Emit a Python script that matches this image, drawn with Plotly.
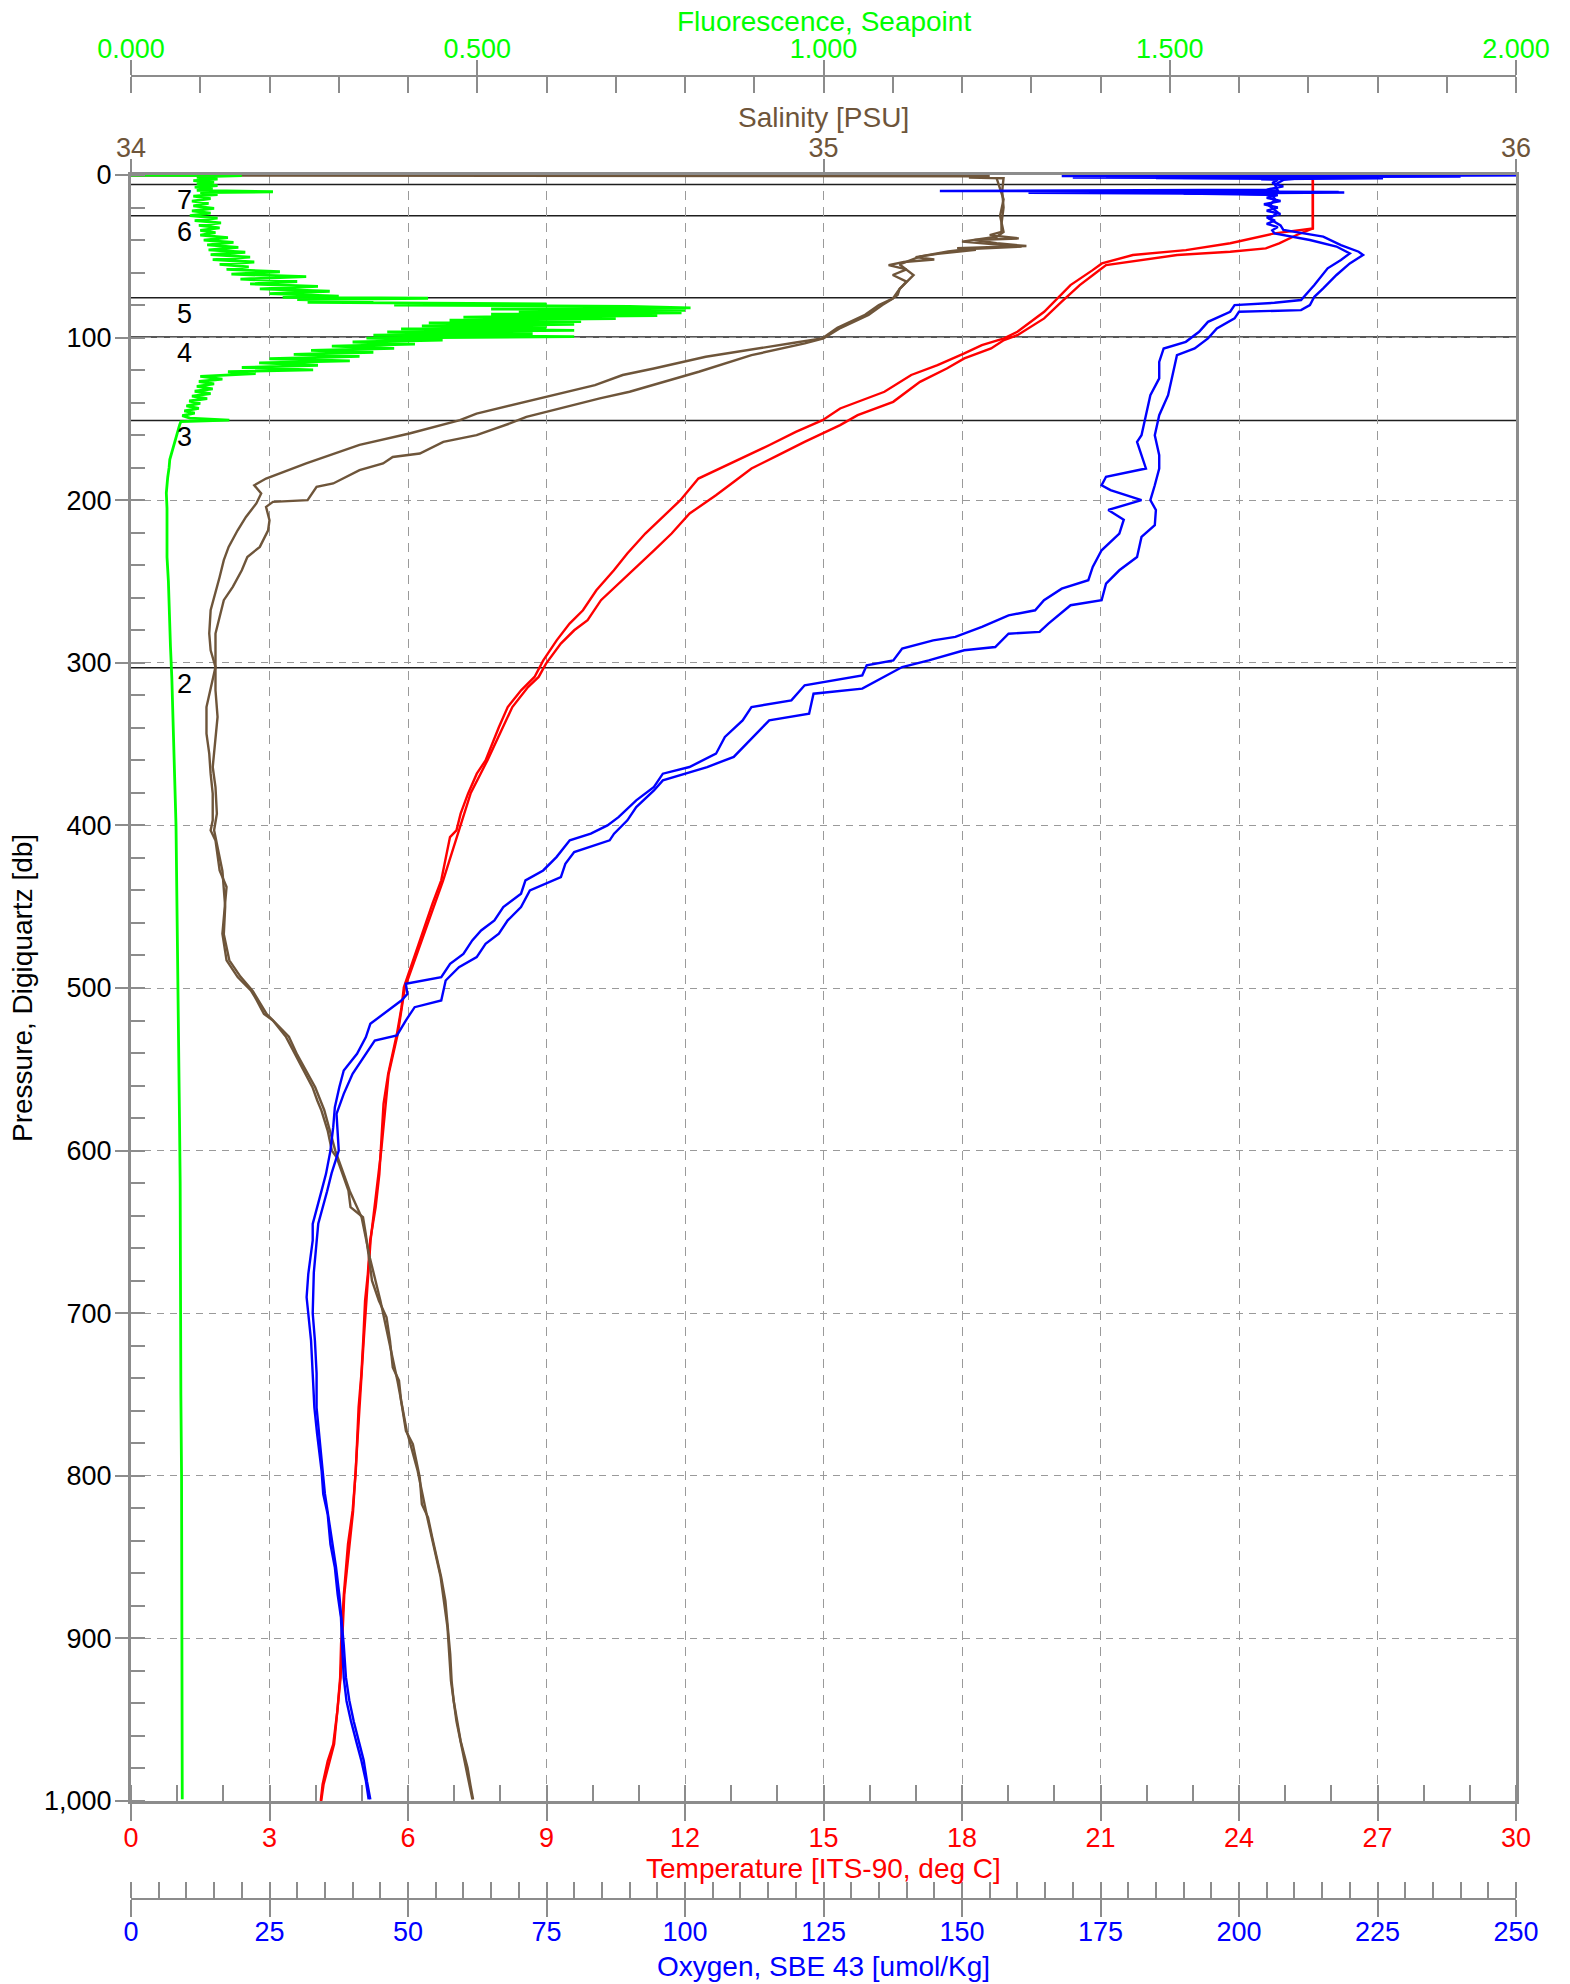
import plotly.graph_objects as go

FONT = "Liberation Sans, Arial, sans-serif"
GREEN = "#00FF00"
BROWN = "#6E553A"
RED = "#FF0000"
BLUE = "#0000FF"
GRAY = "#8C8C8C"
GRID = "#9A9A9A"

# ---------------- data: (pressure [db], value) readings ----------------
temp_down = [
    (3.0, 25.6), (32.8, 25.6), (35.9, 24.77), (42.0, 23.81), (46.2, 22.85), (49.2, 21.70),
    (54.4, 21.03), (58.5, 20.83), (67.7, 20.35), (75.9, 20.07), (84.1, 19.78), (96.4, 19.20),
    (100.5, 18.91), (104.6, 18.43), (109.7, 18.05), (116.9, 17.47), (123.0, 16.90), (133.3, 16.32),
    (143.6, 15.36), (150.8, 14.98), (158.0, 14.40), (166.2, 13.82), (176.4, 13.06), (186.7, 12.29),
    (200.0, 11.90), (210.3, 11.52), (220.5, 11.14), (232.8, 10.75), (243.1, 10.46), (255.4, 10.08),
    (267.7, 9.79), (275.9, 9.50), (286.2, 9.22), (298.5, 8.93), (308.7, 8.74), (316.9, 8.45),
    (327.2, 8.16), (339.5, 7.97), (349.7, 7.83), (360.0, 7.68), (368.2, 7.49), (380.5, 7.30),
    (392.8, 7.14), (403.0, 7.05), (407.2, 6.91), (433.8, 6.72), (448.2, 6.53), (464.6, 6.34),
    (483.0, 6.11), (499.5, 5.91), (511.8, 5.86), (528.2, 5.76), (540.5, 5.66), (552.8, 5.57),
    (571.3, 5.47), (593.8, 5.43), (614.3, 5.38), (634.8, 5.30), (655.3, 5.18), (675.9, 5.13),
    (692.3, 5.07), (716.9, 5.03), (737.4, 4.99), (757.9, 4.93), (778.4, 4.90), (796.9, 4.87),
    (821.6, 4.80), (842.1, 4.70), (872.9, 4.61), (903.6, 4.55), (924.1, 4.53), (944.6, 4.47),
    (965.2, 4.38), (975.4, 4.26), (989.8, 4.15), (1000.0, 4.11),
]
temp_up = [
    (3.0, 25.6), (32.8, 25.6), (36.9, 25.25), (42.0, 24.87), (45.1, 24.58), (47.2, 23.81),
    (49.2, 22.66), (55.4, 21.12), (59.5, 20.93), (67.7, 20.55), (77.9, 20.16), (88.2, 19.78),
    (98.5, 19.20), (101.5, 18.91), (106.7, 18.63), (112.8, 18.05), (119.0, 17.67), (127.2, 17.09),
    (139.5, 16.51), (147.7, 15.74), (153.8, 15.36), (164.1, 14.59), (172.3, 14.02), (180.5, 13.44),
    (188.7, 13.06), (196.9, 12.67), (208.2, 12.10), (220.5, 11.71), (230.8, 11.33), (241.0, 10.94),
    (251.3, 10.56), (261.5, 10.18), (273.8, 9.89), (280.0, 9.60), (288.2, 9.31), (300.5, 8.99),
    (308.7, 8.83), (314.9, 8.60), (327.2, 8.26), (339.5, 8.06), (360.0, 7.72), (380.0, 7.36),
    (403.0, 7.10), (434.0, 6.76), (465.0, 6.37), (500.0, 5.93), (528.0, 5.78), (553.0, 5.58),
    (600.0, 5.42), (655.0, 5.19), (717.0, 5.04), (778.0, 4.91), (822.0, 4.81), (873.0, 4.62),
    (924.0, 4.54), (965.0, 4.40), (990.0, 4.17), (1000.0, 4.12),
]
sal_down = [
    (0.3, 34.00), (0.8, 35.24), (1.5, 35.21), (2.0, 35.26), (10.0, 35.258), (20.0, 35.26),
    (30.0, 35.257), (35.0, 35.257), (37.0, 35.24), (39.0, 35.282), (40.0, 35.218), (42.0, 35.25),
    (43.7, 35.293), (45.0, 35.193), (46.0, 35.22), (48.5, 35.165), (50.5, 35.133), (52.0, 35.16),
    (53.5, 35.116), (55.4, 35.094), (58.0, 35.12), (61.5, 35.10), (65.6, 35.12), (70.0, 35.11),
    (73.8, 35.107), (76.0, 35.10), (80.0, 35.08), (86.0, 35.06), (94.0, 35.02), (100.5, 34.998),
    (103.0, 34.96), (105.6, 34.92), (111.8, 34.83), (119.0, 34.755), (123.0, 34.71), (129.2, 34.67),
    (138.5, 34.58), (146.7, 34.499), (150.8, 34.475), (159.0, 34.402), (166.0, 34.33), (177.4, 34.253),
    (186.7, 34.195), (190.8, 34.178), (195.9, 34.188), (202.0, 34.181), (210.3, 34.166), (218.5, 34.154),
    (228.7, 34.141), (236.9, 34.134), (247.2, 34.128), (257.4, 34.122), (267.7, 34.115), (282.0, 34.113),
    (292.3, 34.115), (302.6, 34.122), (314.9, 34.115), (327.2, 34.109), (343.6, 34.109), (355.9, 34.113),
    (368.2, 34.115), (380.5, 34.118), (396.9, 34.118), (403.1, 34.115), (409.2, 34.122), (427.7, 34.128),
    (437.9, 34.138), (454.3, 34.134), (466.6, 34.132), (483.0, 34.138), (493.3, 34.154), (501.5, 34.173),
    (505.6, 34.179), (515.9, 34.192), (520.0, 34.205), (530.2, 34.224), (540.5, 34.237), (550.7, 34.25),
    (561.0, 34.262), (569.2, 34.269), (575.4, 34.275), (587.7, 34.284), (600.0, 34.290), (604.1, 34.297),
    (614.3, 34.305), (624.6, 34.314), (634.8, 34.317), (641.0, 34.335), (651.2, 34.339), (665.6, 34.343),
    (680.0, 34.348), (692.3, 34.358), (702.5, 34.369), (716.9, 34.374), (733.3, 34.378), (741.5, 34.387),
    (753.8, 34.39), (772.3, 34.397), (780.5, 34.407), (790.7, 34.412), (801.1, 34.417), (817.5, 34.42),
    (825.7, 34.429), (838.0, 34.435), (850.3, 34.442), (862.6, 34.448), (877.0, 34.454), (893.4, 34.458),
    (909.8, 34.461), (926.2, 34.463), (938.5, 34.466), (950.8, 34.471), (963.1, 34.476), (971.3, 34.481),
    (979.5, 34.486), (989.8, 34.49), (999.0, 34.494),
]
sal_up = [
    (2.0, 35.25), (15.0, 35.26), (25.0, 35.255), (35.0, 35.26), (38.0, 35.25), (41.0, 35.20),
    (44.0, 35.286), (45.5, 35.21), (47.0, 35.18), (50.0, 35.14), (55.0, 35.11), (61.5, 35.13),
    (70.0, 35.11), (76.0, 35.10), (80.0, 35.085), (86.0, 35.065), (94.0, 35.025), (100.5, 35.0),
    (103.6, 34.973), (110.8, 34.896), (121.0, 34.82), (127.2, 34.77), (133.3, 34.72), (137.4, 34.677),
    (148.7, 34.571), (152.8, 34.547), (160.0, 34.499), (164.1, 34.451), (167.2, 34.436), (171.3, 34.417),
    (173.4, 34.378), (177.4, 34.364), (181.5, 34.33), (189.7, 34.292), (191.8, 34.268), (200.0, 34.255),
    (201.0, 34.205), (204.1, 34.195), (212.3, 34.200), (218.5, 34.198), (228.7, 34.186), (234.9, 34.168),
    (243.1, 34.16), (253.3, 34.147), (261.5, 34.134), (271.8, 34.128), (282.0, 34.122), (294.4, 34.122),
    (306.7, 34.122), (316.9, 34.122), (333.3, 34.125), (347.7, 34.122), (364.1, 34.118), (376.4, 34.122),
    (392.8, 34.124), (403.0, 34.120), (428.0, 34.132), (450.0, 34.136), (467.0, 34.134), (483.0, 34.142),
    (493.0, 34.158), (502.0, 34.176), (516.0, 34.196), (530.0, 34.228), (541.0, 34.240), (561.0, 34.266),
    (575.0, 34.279), (600.0, 34.295), (625.0, 34.316), (641.0, 34.333), (666.0, 34.345), (692.0, 34.360),
    (717.0, 34.372), (742.0, 34.385), (772.0, 34.398), (797.0, 34.414), (826.0, 34.428), (862.0, 34.447),
    (893.0, 34.457), (926.0, 34.462), (951.0, 34.470), (979.0, 34.484), (999.0, 34.493),
]
oxy_down = [
    (0.0, 252), (0.6, 168), (1.0, 240), (1.5, 170), (2.0, 226), (2.6, 204), (3.0, 207), (5.0, 206),
    (7.0, 208), (9.0, 205), (9.8, 146), (10.4, 218), (11.0, 162), (11.6, 200), (12.3, 207), (14.0, 205),
    (16.0, 207.5), (18.0, 204.5), (20.0, 207), (22.0, 205), (24.0, 207.5), (26.0, 205), (28.0, 206.5),
    (30.0, 205), (32.0, 207), (34.0, 206), (35.9, 206.4), (40.0, 212.8), (44.0, 217.6), (48.2, 220.0),
    (52.3, 218.4), (57.4, 216.0), (67.7, 213.6), (76.9, 211.2), (78.6, 206.4), (80.0, 199.2),
    (84.1, 198.4), (90.3, 194.4), (96.4, 192.8), (102.6, 190.4), (106.7, 186.4), (114.9, 185.6),
    (125.1, 185.6), (135.4, 184.0), (147.7, 183.2), (160.0, 182.4), (164.1, 181.6), (172.3, 182.4),
    (180.5, 183.2), (185.6, 176.0), (190.8, 175.2), (193.8, 176.8), (200.0, 182.4), (206.0, 176.4),
    (212.0, 179.2), (220.5, 178.4), (230.8, 175.2), (241.0, 173.6), (249.2, 172.8), (254.4, 168.0),
    (261.5, 164.8), (267.7, 163.2), (270.8, 158.4), (277.9, 153.6), (284.1, 148.8), (286.2, 144.8),
    (291.3, 139.2), (298.5, 137.6), (301.5, 132.8), (307.7, 132.0), (310.8, 126.4), (313.8, 121.6),
    (323.1, 119.2), (327.2, 112.0), (335.4, 110.4), (345.6, 107.2), (355.9, 105.6), (364.1, 100.8),
    (368.2, 96.0), (376.4, 94.4), (384.6, 91.2), (394.9, 88.0), (400.0, 86.0), (405.0, 83.0),
    (409.2, 79.2), (419.5, 76.8), (427.7, 74.4), (433.8, 71.2), (442.0, 70.4), (450.2, 67.2),
    (458.4, 65.6), (464.6, 63.2), (470.7, 61.6), (479.0, 60.0), (485.1, 57.6), (493.3, 56.0),
    (497.4, 49.6), (503.6, 49.9), (507.7, 48.8), (513.8, 46.4), (522.0, 43.2), (530.2, 42.4),
    (540.5, 40.8), (550.7, 38.4), (561.0, 37.6), (573.3, 36.8), (585.6, 36.5), (600.0, 36.0),
    (614.3, 35.2), (624.6, 34.4), (634.8, 33.6), (645.1, 32.8), (655.3, 32.8), (675.9, 32.0),
    (690.2, 31.7), (700.5, 32.0), (716.9, 32.5), (737.4, 32.8), (757.9, 33.1), (774.3, 33.6),
    (796.9, 34.4), (811.3, 34.7), (823.6, 35.5), (842.1, 36.0), (856.4, 36.8), (872.9, 37.3),
    (887.2, 37.9), (903.6, 38.1), (924.1, 38.4), (938.5, 38.9), (950.8, 39.7), (965.2, 40.8),
    (975.4, 41.6), (987.7, 42.4), (999.0, 42.9),
]
oxy_up = [
    (0.2, 253), (0.8, 176), (1.2, 222), (1.8, 185), (2.4, 210), (3.0, 208), (6.0, 206.5), (9.5, 207),
    (10.2, 193.6), (10.8, 219), (11.4, 190), (12.2, 206), (15.0, 206.5), (19.0, 205.5), (23.0, 207),
    (27.0, 205.5), (31.0, 207.5), (33.8, 208), (37.9, 215.2), (43.1, 218.4), (47.2, 221.6),
    (49.2, 222.4), (54.4, 220), (61.5, 217.6), (69.7, 215.2), (74.9, 213.6), (80.0, 212.8),
    (83.1, 211.2), (84.1, 200), (88.2, 199.2), (94.4, 196), (100.5, 194.4), (106.7, 192),
    (110.8, 188.8), (123.1, 188), (135.4, 187.2), (147.7, 185.6), (160.0, 184.8), (172.3, 185.6),
    (180.5, 185.6), (190.8, 184.8), (200.0, 184), (206.0, 185), (215.4, 184.8), (222.6, 182.4),
    (234.9, 181.6), (243.1, 178.4), (251.3, 176), (261.5, 175.2), (264.6, 169.6), (275.9, 165.6),
    (281.0, 164), (282.1, 158.4), (290.3, 156), (292.3, 150.4), (298.5, 144), (302.6, 139.2),
    (308.7, 136), (315.9, 132), (319.0, 123.2), (331.3, 122.4), (335.4, 115.2), (343.6, 112.8),
    (351.8, 110.4), (357.9, 108.8), (364.1, 104), (372.3, 96), (378.5, 94.4), (388.7, 91.2),
    (396.9, 89.6), (405.1, 87.2), (409.2, 86.4), (416.4, 80), (423.6, 78.4), (431.8, 77.6),
    (440.0, 72), (450.2, 70.4), (458.4, 68), (466.6, 66.4), (472.8, 64), (481.0, 62.4),
    (487.2, 59.2), (495.4, 56.8), (507.7, 56), (511.8, 51.2), (520.0, 49.6), (529.2, 48),
    (532.3, 44), (540.5, 42.4), (552.8, 40), (565.1, 38.4), (577.4, 37.1), (600.0, 37.5),
    (614.0, 36.2), (625.0, 35.4), (645.0, 33.8), (675.0, 33.0), (700.0, 32.8), (717.0, 33.2),
    (737.0, 33.5), (758.0, 33.5), (774.0, 34.0), (797.0, 34.6), (811.0, 35.0), (824.0, 35.6),
    (842.0, 36.3), (856.0, 37.0), (873.0, 37.6), (887.0, 38.0), (904.0, 38.4), (924.0, 38.8),
    (938.0, 39.4), (951.0, 40.2), (965.0, 41.2), (975.0, 42.0), (988.0, 42.6), (999.0, 43.2),
]
fluor = [
    (0.0, 0.000), (0.4, 0.160), (0.9, 0.120), (1.5, 0.095), (2.5, 0.125), (3.5, 0.090), (4.5, 0.120),
    (5.5, 0.095), (6.5, 0.125), (7.5, 0.092), (8.5, 0.118), (9.5, 0.095), (10.3, 0.205), (10.9, 0.100),
    (12.0, 0.125), (13.0, 0.090), (14.5, 0.115), (16.0, 0.088), (17.5, 0.112), (19.0, 0.090),
    (20.5, 0.120), (22.0, 0.088), (23.5, 0.115), (25.0, 0.085), (26.5, 0.125), (28.0, 0.092),
    (29.5, 0.130), (31.0, 0.098), (32.5, 0.128), (34.0, 0.100), (35.5, 0.122), (37.0, 0.100),
    (38.5, 0.140), (40.0, 0.105), (41.5, 0.148), (43.0, 0.110), (44.5, 0.155), (46.0, 0.112),
    (47.5, 0.165), (49.0, 0.115), (50.5, 0.172), (52.0, 0.118), (53.5, 0.178), (55.0, 0.128),
    (56.5, 0.170), (58.0, 0.138), (59.5, 0.215), (61.0, 0.145), (62.5, 0.253), (64.0, 0.158),
    (65.5, 0.240), (67.0, 0.172), (68.5, 0.270), (70.0, 0.186), (71.5, 0.287), (73.0, 0.200),
    (74.5, 0.300), (75.3, 0.219), (75.8, 0.429), (76.6, 0.240), (77.5, 0.350), (78.3, 0.255),
    (79.2, 0.600), (80.0, 0.380), (80.8, 0.720), (81.7, 0.808), (82.4, 0.520), (83.2, 0.800),
    (84.0, 0.560), (84.8, 0.795), (85.6, 0.520), (86.5, 0.760), (87.4, 0.480), (88.3, 0.700),
    (89.2, 0.460), (90.1, 0.650), (91.0, 0.430), (91.9, 0.640), (92.8, 0.420), (93.7, 0.600),
    (94.6, 0.390), (95.5, 0.640), (96.5, 0.370), (97.5, 0.580), (98.5, 0.350), (99.4, 0.640),
    (100.3, 0.340), (101.5, 0.450), (102.7, 0.320), (104.0, 0.410), (105.3, 0.290), (106.6, 0.380),
    (107.8, 0.260), (109.0, 0.350), (110.3, 0.235), (111.6, 0.330), (113.0, 0.200), (114.3, 0.316),
    (115.6, 0.185), (117.0, 0.270), (118.4, 0.160), (119.8, 0.263), (121.0, 0.140), (122.2, 0.180),
    (123.9, 0.100), (125.5, 0.132), (127.0, 0.098), (128.5, 0.120), (130.0, 0.095), (131.5, 0.118),
    (133.0, 0.092), (134.5, 0.115), (136.0, 0.088), (137.5, 0.110), (139.0, 0.084), (140.5, 0.100),
    (142.0, 0.080), (143.5, 0.098), (145.0, 0.077), (146.5, 0.092), (148.0, 0.074), (149.5, 0.085),
    (150.8, 0.142), (151.6, 0.072), (154.0, 0.070), (157.0, 0.068), (161.0, 0.065), (165.0, 0.063),
    (170.0, 0.060), (175.0, 0.056), (180.0, 0.055), (186.0, 0.053), (195.6, 0.051), (205.0, 0.052),
    (220.0, 0.052), (235.0, 0.052), (250.0, 0.054), (270.0, 0.055), (290.0, 0.057), (310.0, 0.059),
    (330.0, 0.060), (350.0, 0.062), (370.0, 0.063), (400.0, 0.065), (430.0, 0.066), (460.0, 0.067),
    (500.0, 0.068), (540.0, 0.069), (580.0, 0.070), (620.0, 0.071), (660.0, 0.071), (700.0, 0.072),
    (750.0, 0.072), (800.0, 0.073), (850.0, 0.073), (900.0, 0.073), (950.0, 0.074), (999.0, 0.074),
]
bottle_pressure = [5.8, 25.0, 75.5, 99.6, 151.0, 303.0]
bottle_number = ["7", "6", "5", "4", "3", "2"]

temp_ticks = [0, 3, 6, 9, 12, 15, 18, 21, 24, 27, 30]
sal_ticks = [34, 35, 36]
oxy_ticks = [0, 25, 50, 75, 100, 125, 150, 175, 200, 225, 250]
fluor_ticks = [0.0, 0.5, 1.0, 1.5, 2.0]
pres_ticks = [0, 100, 200, 300, 400, 500, 600, 700, 800, 900, 1000]

# ---------------- layout geometry (screen px; page margin removed by post_script) ----------------
W, H = 1570, 1984
ML, MR, MT, MB = 131, 54, 0, 0
PH = H - MT - MB
PW = W - ML - MR


def py(screen_px):
    return (H - MB - screen_px) / PH


def pxx(screen_px):
    return (screen_px - ML) / PW


PLOT_TOP, PLOT_BOT = 175, 1801
FS = 27
FS_T = 28


def split(pairs):
    return [v for _, v in pairs], [p for p, _ in pairs]


fig = go.Figure()


def add(pairs, axis, color, width):
    xs, ys = split(pairs)
    fig.add_trace(go.Scatter(x=xs, y=ys, xaxis=axis, yaxis="y", mode="lines",
                             line=dict(color=color, width=width), showlegend=False,
                             hoverinfo="skip"))


add(sal_down, "x2", BROWN, 2.4)
add(sal_up, "x2", BROWN, 2.4)
add(temp_down, "x", RED, 2.4)
add(temp_up, "x", RED, 2.4)
add(oxy_down, "x5", BLUE, 2.4)
add(oxy_up, "x5", BLUE, 2.4)
add(fluor, "x3", GREEN, 2.8)


def tickfont(c):
    return dict(family=FONT, size=FS, color=c)


common = dict(automargin=False, zeroline=False, tickwidth=1.5, tickcolor=GRAY)

layout = dict(
    width=W, height=H, margin=dict(l=ML, r=MR, t=MT, b=MB, autoexpand=False),
    paper_bgcolor="white", plot_bgcolor="white", showlegend=False,
    font=dict(family=FONT, size=FS, color="black"),
    yaxis=dict(domain=[py(PLOT_BOT), py(PLOT_TOP)], range=[1000, 0], tickvals=pres_ticks,
               tickformat=",", ticks="outside", ticklen=13, ticklabelstandoff=-2,
               minor=dict(dtick=20, tick0=0, ticks="inside", ticklen=14, tickwidth=1.5,
                          tickcolor=GRAY, showgrid=False),
               showgrid=True, gridcolor=GRID, gridwidth=1.3, griddash="7px,6px",
               showline=True, linecolor=GRAY, linewidth=3, mirror=True,
               tickfont=tickfont("black"), **common),
    xaxis=dict(domain=[0, 1], anchor="y", side="bottom", range=[0, 30], tickvals=temp_ticks,
               ticks="outside", ticklen=17, ticklabelstandoff=-6,
               minor=dict(dtick=1, tick0=0, ticks="inside", ticklen=16, tickwidth=1.5,
                          tickcolor=GRAY, showgrid=False),
               showgrid=True, gridcolor=GRID, gridwidth=1.3, griddash="9px,7px",
               showline=True, linecolor=GRAY, linewidth=3, mirror=True,
               tickfont=tickfont(RED), **common),
    xaxis2=dict(overlaying="x", anchor="y", side="top", range=[34, 36], tickvals=sal_ticks,
                ticks="outside", ticklen=13, ticklabelstandoff=-9, showgrid=False,
                showline=True, linecolor=GRAY, linewidth=3,
                tickfont=tickfont(BROWN), **common),
    xaxis3=dict(overlaying="x", anchor="free", position=py(76), side="top", range=[0, 2],
                tickvals=fluor_ticks, tickformat=".3f", ticks="outside", ticklen=15,
                ticklabelstandoff=-9,
                minor=dict(dtick=0.1, tick0=0, ticks="inside", ticklen=16, tickwidth=1.5,
                           tickcolor=GRAY, showgrid=False),
                showgrid=False, showline=True, linecolor=GRAY, linewidth=2,
                tickfont=tickfont(GREEN), **common),
    xaxis4=dict(overlaying="x", anchor="free", position=py(76), side="top", range=[0, 2],
                tickvals=fluor_ticks, ticks="inside", ticklen=16,
                showticklabels=False, showgrid=False, showline=False, **common),
    xaxis5=dict(overlaying="x", anchor="free", position=py(1899), side="bottom", range=[0, 250],
                tickvals=oxy_ticks, ticks="outside", ticklen=17, ticklabelstandoff=-8,
                minor=dict(dtick=5, tick0=0, ticks="inside", ticklen=16, tickwidth=1.5,
                           tickcolor=GRAY, showgrid=False),
                showgrid=False, showline=True, linecolor=GRAY, linewidth=2,
                tickfont=tickfont(BLUE), **common),
    xaxis6=dict(overlaying="x", anchor="free", position=py(1899), side="bottom", range=[0, 250],
                tickvals=oxy_ticks, ticks="inside", ticklen=16,
                showticklabels=False, showgrid=False, showline=False, **common),
)
fig.update_layout(**layout)

# invisible traces to activate helper axes
fig.add_trace(go.Scatter(x=[None], y=[None], xaxis="x4", yaxis="y", showlegend=False))
fig.add_trace(go.Scatter(x=[None], y=[None], xaxis="x6", yaxis="y", showlegend=False))

shapes = []
for p in bottle_pressure:
    shapes.append(dict(type="line", xref="paper", x0=0, x1=1, yref="y", y0=p, y1=p,
                       line=dict(color="#1E1E1E", width=1.5), layer="between"))
fig.update_layout(shapes=shapes)

ann = []
for p, n in zip(bottle_pressure, bottle_number):
    ann.append(dict(text=n, xref="x", x=1.15, yref="y", y=p, yanchor="top", xanchor="center",
                    yshift=1, showarrow=False, font=dict(family=FONT, size=FS, color="black")))


def title(text, x, y, color, angle=0):
    return dict(text=text, xref="paper", yref="paper", x=x, y=y, xanchor="center",
                yanchor="middle", showarrow=False, textangle=angle, borderpad=0,
                font=dict(family=FONT, size=FS_T, color=color))


ann += [
    title("Fluorescence, Seapoint", 0.5, py(21), GREEN),
    title("Salinity [PSU]", 0.5, py(118), BROWN),
    title("Temperature [ITS-90, deg C]", 0.5, py(1868), RED),
    title("Oxygen, SBE 43 [umol/Kg]", 0.5, py(1966), BLUE),
    title("Pressure, Digiquartz [db]", pxx(22), (py(PLOT_BOT) + py(PLOT_TOP)) / 2, "black", -90),
]
fig.update_layout(annotations=ann)

fig.write_html("out.html", config={"displayModeBar": False},
               post_script="document.body.style.margin='0px';document.body.style.padding='0px';")
